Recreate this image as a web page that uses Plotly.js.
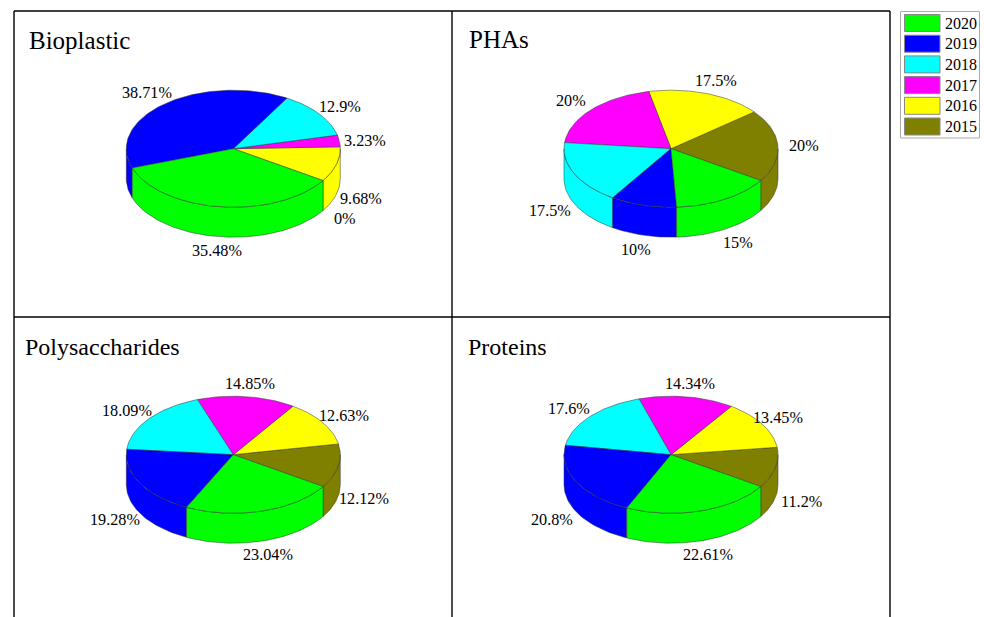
<!DOCTYPE html>
<html>
<head>
<meta charset="utf-8">
<script src="https://cdn.plot.ly/plotly-3.0.1.min.js"></script>
<style>html,body{margin:0;padding:0;background:#fff}#chart{width:984px;height:617px}</style>
</head>
<body>
<div id="chart"></div>
<script>
// Data, in stacking order starting at the lower right and going counterclockwise
const years = ['2015', '2016', '2017', '2018', '2019', '2020'];
const colors = ['#808000', '#ffff00', '#ff00ff', '#00ffff', '#0000ff', '#00ff00'];
const panelNames = ['Bioplastic', 'PHAs', 'Polysaccharides', 'Proteins'];
const bioplastic = [0, 9.68, 3.23, 12.9, 38.71, 35.48];
const phas = [20, 17.5, 20, 17.5, 10, 15];
const polysaccharides = [12.12, 12.63, 14.85, 18.09, 19.28, 23.04];
const proteins = [11.2, 13.45, 14.34, 17.6, 20.8, 22.61];
const panelValues = [bioplastic, phas, polysaccharides, proteins];

// Layout (page pixels are used as the axis units)
const centers = [[233.3, 148.7], [671, 148.7], [233.3, 454.7], [671, 454.7]];
const RX = 107, RY = 58.5, DEPTH = 30, START = -33;
const titlePos = [[29, 40, 25], [469, 39, 25], [25, 347, 24], [468, 347, 24]];
const labelPos = [
  [[345, 218], [361, 198], [365, 140], [340, 106], [147, 92], [217, 250]],
  [[804, 145], [716, 80], [571, 100], [550, 210], [636, 249], [738, 242]],
  [[364, 498], [344, 415], [250, 383], [127, 410], [115, 519], [268, 554]],
  [[801, 501], [778, 417], [690, 383], [569, 408], [552, 519], [708, 554]]
];
const FONT = '"Liberation Serif", "Times New Roman", serif';
const EDGE = {color: '#333333', width: 0.5};

function arc(cx, cy, a1, a2, dz) {
  const n = Math.max(2, Math.ceil(Math.abs(a2 - a1) / 1.5));
  const xs = [], ys = [];
  for (let i = 0; i <= n; i++) {
    const t = (a1 + (a2 - a1) * i / n) * Math.PI / 180;
    xs.push(cx + RX * Math.cos(t));
    ys.push(cy - RY * Math.sin(t) + dz);
  }
  return [xs, ys];
}

const sides = [], tops = [];
panelValues.forEach((vals, p) => {
  const [cx, cy] = centers[p];
  let a = START;
  vals.forEach((v, i) => {
    const a1 = a, a2 = a + v * 3.6;
    a = a2;
    if (v <= 0) return;
    const common = {
      type: 'scatter', mode: 'lines', fill: 'toself', fillcolor: colors[i], line: EDGE,
      name: years[i], showlegend: false, hoverinfo: 'name+text', text: panelNames[p] + ': ' + v + '%'
    };
    // front wall: only the part of the rim in the lower half of the ellipse
    [[-180, 0], [180, 360]].forEach(([lo, hi]) => {
      const s = Math.max(a1, lo), e = Math.min(a2, hi);
      if (e <= s) return;
      const [tx, ty] = arc(cx, cy, s, e, 0);
      const [bx, by] = arc(cx, cy, e, s, DEPTH);
      sides.push(Object.assign({}, common, {
        x: tx.concat(bx, [tx[0]]), y: ty.concat(by, [ty[0]])
      }));
    });
    // top face
    const [ax, ay] = arc(cx, cy, a1, a2, 0);
    tops.push(Object.assign({}, common, {
      x: [cx].concat(ax, [cx]), y: [cy].concat(ay, [cy])
    }));
  });
});

const annotations = [], shapes = [];
const frame = {color: '#000', width: 1.4};
[[14, 11, 890, 11], [14, 317, 890, 317], [14, 11, 14, 617], [452, 11, 452, 617], [890, 11, 890, 617]]
  .forEach(([x0, y0, x1, y1]) => shapes.push({type: 'line', xref: 'x', yref: 'y', x0, y0, x1, y1, line: frame}));

const noPad = {showarrow: false, borderpad: 0, borderwidth: 0, xref: 'x', yref: 'y', yanchor: 'middle'};
panelNames.forEach((name, p) => {
  const [tx, ty, ts] = titlePos[p];
  annotations.push(Object.assign({x: tx, y: ty, text: name, xanchor: 'left',
    font: {family: FONT, size: ts, color: '#000'}}, noPad));
  panelValues[p].forEach((v, i) => {
    annotations.push(Object.assign({x: labelPos[p][i][0], y: labelPos[p][i][1] + 1, text: v + '%',
      xanchor: 'center', font: {family: FONT, size: 16.2, color: '#000'}}, noPad));
  });
});

// Legend box (newest year first)
shapes.push({type: 'rect', xref: 'x', yref: 'y', x0: 900.5, y0: 11.5, x1: 979.5, y1: 138, line: {color: '#aaaaaa', width: 1}, fillcolor: '#fff'});
years.slice().reverse().forEach((yr, k) => {
  const color = colors[years.length - 1 - k];
  const yc = 23 + k * 20.7;
  shapes.push({type: 'rect', xref: 'x', yref: 'y', x0: 904.5, x1: 940, y0: yc - 8.5, y1: yc + 8.5, fillcolor: color, line: {color: '#888888', width: 1}});
  annotations.push(Object.assign({x: 945, y: yc, text: yr, xanchor: 'left',
    font: {family: FONT, size: 16, color: '#000'}}, noPad));
});

Plotly.newPlot('chart', sides.concat(tops), {
  width: 984, height: 617,
  margin: {l: 0, r: 0, t: 0, b: 0},
  paper_bgcolor: '#fff', plot_bgcolor: '#fff',
  xaxis: {range: [0, 984], visible: false, fixedrange: true},
  yaxis: {range: [617, 0], visible: false, fixedrange: true},
  showlegend: false, shapes, annotations
}, {displayModeBar: false});
</script>
</body>
</html>
